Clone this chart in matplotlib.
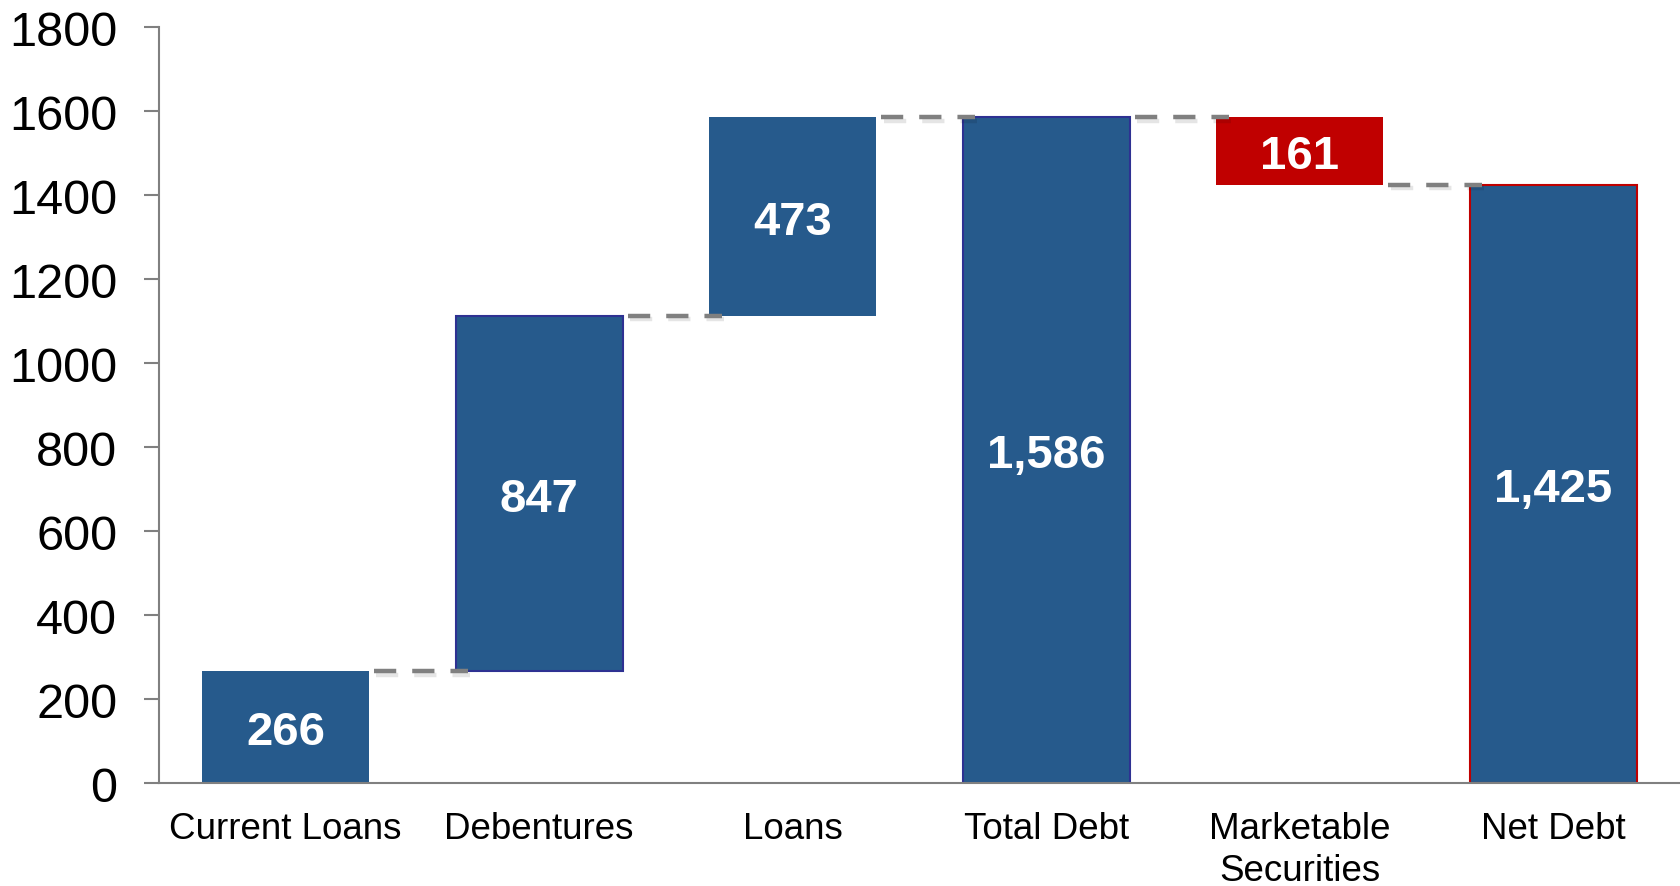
import matplotlib
matplotlib.use("Agg")
import matplotlib.pyplot as plt
import matplotlib.patheffects as pe
import numpy as np

plt.rcParams['font.family'] = ['Liberation Sans', 'DejaVu Sans']

# data
categories = ["Current Loans", "Debentures", "Loans", "Total Debt",
              "Marketable\nSecurities", "Net Debt"]
values = [266, 847, 473, 1586, -161, 1425]
is_total = [False, False, False, True, False, True]
labels = ["266", "847", "473", "1,586", "161", "1,425"]

BLUE = "#265A8C"
RED = "#C00000"
GREY = "#808080"

# bar bottoms / tops from running total
bottoms, tops = [], []
running = 0
for v, tot in zip(values, is_total):
    if tot:
        bottoms.append(0)
        tops.append(v)
        running = v
    else:
        start = running
        running = running + v
        bottoms.append(min(start, running))
        tops.append(max(start, running))
heights = np.array(tops) - np.array(bottoms)
ends = [t if v >= 0 else b for v, b, t in zip(values, bottoms, tops)]

colors = [RED if v < 0 else BLUE for v in values]
edges = ["none", "#2E3192", "none", "#2E3192", "none", RED]

fig = plt.figure(figsize=(16.8, 8.87), dpi=100)
ax = fig.add_axes([0.0946, 0.116, 0.9054, 0.852])

x = np.arange(len(categories))
width = 0.66
for i in x:
    ax.bar(i, heights[i], bottom=bottoms[i], width=width, color=colors[i],
           edgecolor=edges[i], linewidth=1.5 if edges[i] != "none" else 0,
           zorder=2)
    ax.text(i, bottoms[i] + heights[i] / 2, labels[i], ha="center",
            va="center_baseline", color="white", fontsize=34,
            fontweight="bold", zorder=4)

# dashed connectors
for i in range(len(categories) - 1):
    ax.plot([i + width / 2 + 0.02, i + 1 - width / 2 + 0.05],
            [ends[i], ends[i]],
            color=GREY, lw=3.2, linestyle=(0, (5.0, 3.6)), zorder=3,
            solid_capstyle="butt",
            path_effects=[pe.SimpleLineShadow(offset=(1.5, -2.5), alpha=0.1),
                          pe.Normal()])

ax.set_xlim(-0.5, len(categories) - 0.5)
ax.set_ylim(0, 1800)
ax.set_yticks(range(0, 1801, 200))
ax.set_xticks(x)
ax.set_xticklabels(categories, fontsize=26.5, linespacing=1.25)
ax.tick_params(axis="y", labelsize=35, length=11, width=1.5, color=GREY,
               pad=19)
ax.tick_params(axis="x", length=0, pad=20)

for s in ["top", "right"]:
    ax.spines[s].set_visible(False)
for s in ["left", "bottom"]:
    ax.spines[s].set_color(GREY)
    ax.spines[s].set_linewidth(1.5)

fig.savefig("out.png", dpi=100)
